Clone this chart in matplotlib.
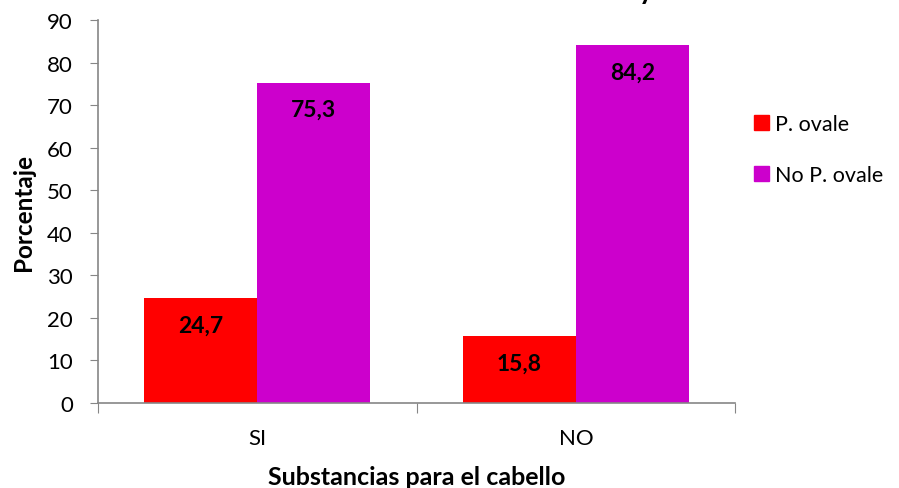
import numpy as np
import matplotlib.pyplot as plt
from matplotlib.patches import Patch

categorias = ['SI', 'NO']
p_ovale = [24.7, 15.8]
no_p_ovale = [75.3, 84.2]
series = ['P. ovale', 'No P. ovale']
colores = ['#ff0000', '#cc00cc']
yticks = list(range(0, 100, 10))

plt.rcParams['font.family'] = ['Lato', 'DejaVu Sans']

fig = plt.figure(figsize=(8.99, 4.89), dpi=100)
ax = fig.add_axes([0.109, 0.174, 0.709, 0.783])

x = np.arange(len(categorias))
w = 0.355
b1 = ax.bar(x - w / 2, p_ovale, w, color=colores[0])
b2 = ax.bar(x + w / 2, no_p_ovale, w, color=colores[1])

for bars, vals in [(b1, p_ovale), (b2, no_p_ovale)]:
    for r, v in zip(bars, vals):
        ax.annotate(('%.1f' % v).replace('.', ','),
                    (r.get_x() + r.get_width() / 2, v),
                    xytext=(0, -19.5), textcoords='offset points',
                    ha='center', va='center', fontsize=16.5, fontweight='bold')

ax.set_xlim(-0.5, 1.5)
ax.set_ylim(0, 90)
ax.set_yticks(yticks)
ax.tick_params(axis='y', labelsize=16, length=6, color='#868686', pad=12)
# categorias en el centro, marcas de division entre ellas
ax.set_xticks([-0.5, 0.5, 1.5])
ax.set_xticklabels([])
ax.set_xticks(x, minor=True)
ax.set_xticklabels(categorias, minor=True)
ax.tick_params(axis='x', which='major', length=7, color='#868686')
ax.tick_params(axis='x', which='minor', length=0, labelsize=16, pad=18)

for s in ['top', 'right']:
    ax.spines[s].set_visible(False)
for s in ['left', 'bottom']:
    ax.spines[s].set_color('#868686')
    ax.spines[s].set_linewidth(1.2)

ax.set_ylabel('Porcentaje', fontsize=17.5, fontweight='bold', labelpad=9)
ax.set_xlabel('Substancias para el cabello', fontsize=18, fontweight='bold', labelpad=12)

handles = [Patch(color=c) for c in colores]
fig.legend(handles, series, loc='upper left', bbox_to_anchor=(0.8175, 0.804),
           frameon=False, fontsize=15.5, handlelength=0.68, handleheight=0.68,
           handletextpad=0.3, labelspacing=1.43)

# titulo recortado por el borde superior
fig.text(639 / 899, 1 + 1 / 489, 'y', fontsize=20, fontweight='bold',
         ha='left', va='baseline')

fig.savefig('out.png', dpi=100)
